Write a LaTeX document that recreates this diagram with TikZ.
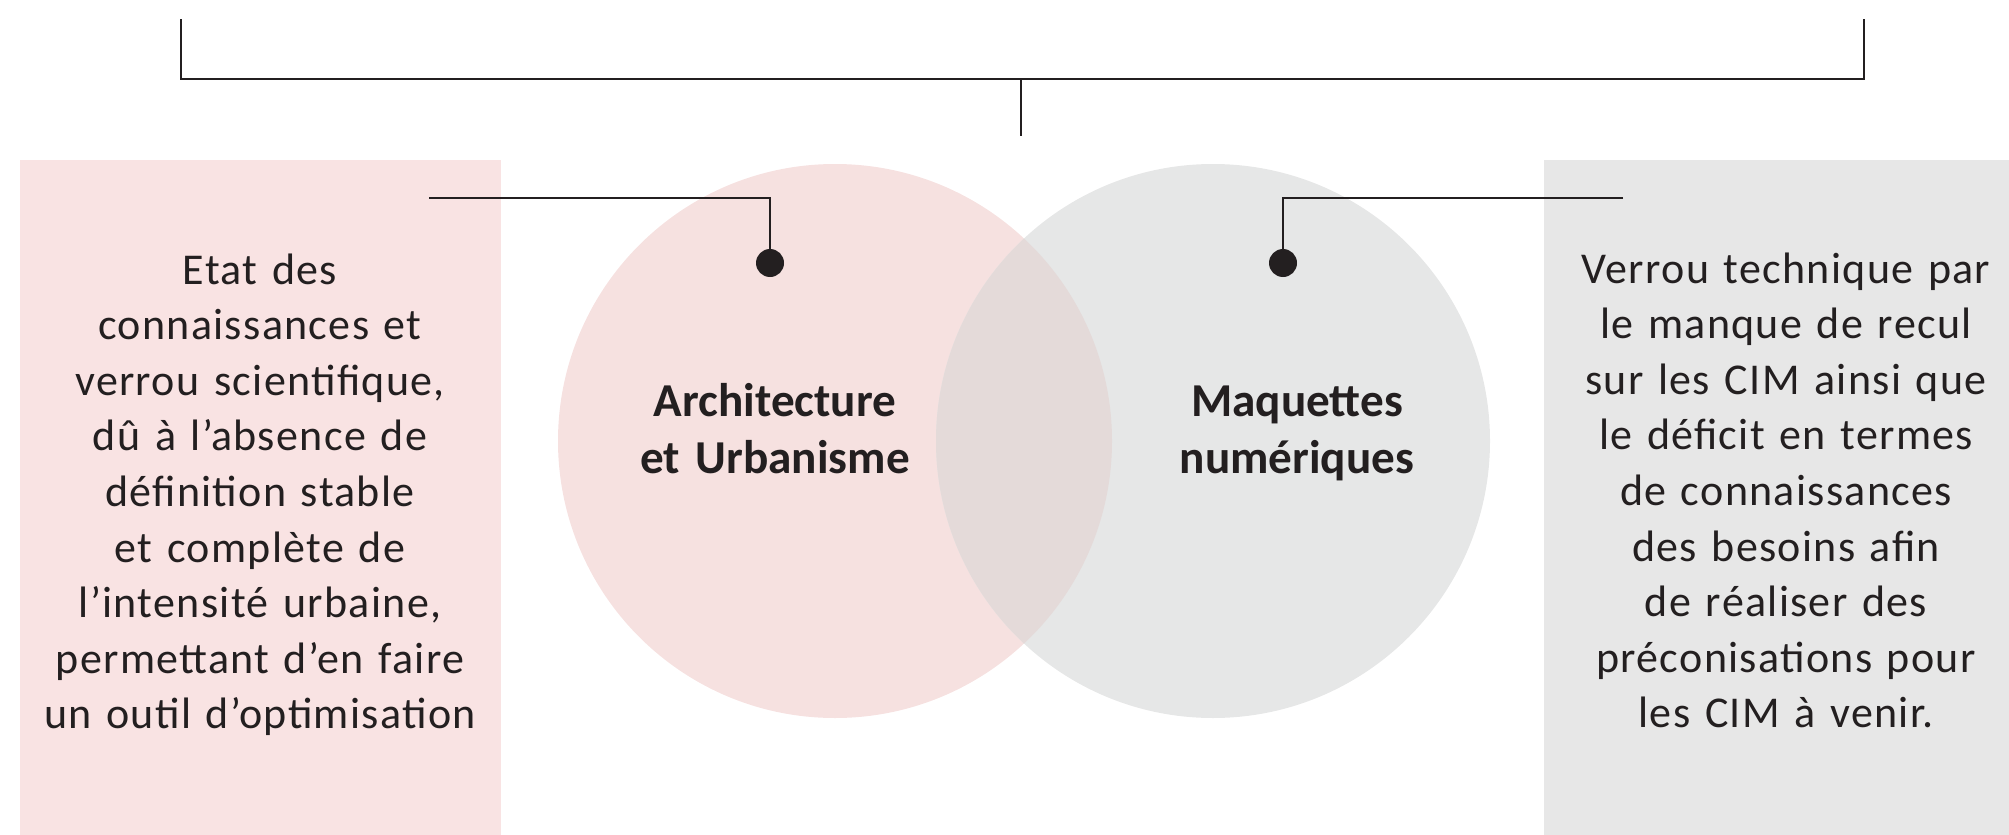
\documentclass[tikz,border=0pt]{standalone}
\usepackage{fontspec}
\setmainfont{Carlito}
\newfontfamily\bodyfont[LetterSpace=3]{Carlito}
\definecolor{ink}{HTML}{231F20}
\definecolor{pinkbox}{HTML}{F9E3E3}
\definecolor{pinkc}{HTML}{F6E1E0}
\definecolor{grayc}{HTML}{E6E7E7}
\definecolor{graybox}{HTML}{E7E7E7}
\definecolor{overlapc}{HTML}{E4DAD9}
\begin{document}
\begin{tikzpicture}[x=0.5pt,y=-0.5pt,
  panel/.style={draw=none,inner sep=0pt,anchor=north west,minimum height=337.5pt},
  disc/.style={circle,draw=none,inner sep=0pt,minimum size=277pt},
  dotmark/.style={circle,fill=ink,draw=none,inner sep=0pt,minimum size=14pt},
  conn/.style={draw=ink,line width=1.35pt},
  bodytext/.style={text=ink,align=center,anchor=base,inner sep=0pt,
    font=\bodyfont\fontsize{22pt}{27.8pt}\selectfont},
  labeltext/.style={text=ink,align=center,anchor=base,inner sep=0pt,
    font=\fontsize{23.6pt}{28.5pt}\selectfont\bfseries}]
\useasboundingbox (0,0) rectangle (2009,835);
% side panels
\node[panel,fill=pinkbox,minimum width=240.5pt] (lbox) at (20,160) {};
\node[panel,fill=graybox,minimum width=233pt] (rbox) at (1544,160) {};
% circles
\node[disc,fill=pinkc] (archi) at (835,441) {};
\node[disc,fill=grayc] (maq) at (1213,441) {};
\begin{scope}
  \clip (835,441) circle[radius=138.5pt];
  \fill[overlapc] (1213,441) circle[radius=138.5pt];
\end{scope}
% texts
\node[bodytext,text width=240pt] (ltext) at (260,284) {Etat des\\connaissances et\\verrou scientifique,\\dû à l’absence de\\définition stable\\et complète de\\l’intensité urbaine,\\permettant d’en faire\\un outil d’optimisation};
\node[bodytext,text width=232pt] (rtext) at (1786,283) {Verrou technique par\\le manque de recul\\sur les CIM ainsi que\\le déficit en termes\\de connaissances\\des besoins afin\\de réaliser des\\préconisations pour\\les CIM à venir.};
\node[labeltext,text width=160pt] (alabel) at (775,416) {Architecture\\et Urbanisme};
\node[labeltext,text width=160pt] (mlabel) at (1297,416) {Maquettes\\numériques};
% top bracket
\coordinate (bl) at (181,19);
\coordinate (br) at (1864,19);
\coordinate (bar) at (1021,79);
\coordinate (stem) at (1021,136);
\draw[conn] (bl) -- (bl |- bar) -- (br |- bar) -- (br);
\draw[conn] (bar) -- (stem);
% connectors with dots
\node[dotmark] (ldot) at (770,263) {};
\node[dotmark] (rdot) at (1283,263) {};
\coordinate (lstart) at (429,198);
\coordinate (rstart) at (1623,198);
\draw[conn] (lstart) -| (ldot.center);
\draw[conn] (rstart) -| (rdot.center);
\end{tikzpicture}
\end{document}
